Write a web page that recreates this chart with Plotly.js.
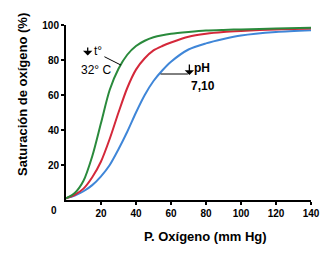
<!DOCTYPE html>
<html><head><meta charset="utf-8">
<script src="https://cdn.plot.ly/plotly-3.0.1.min.js"></script>
<style>html,body{margin:0;padding:0;background:#fff}</style>
</head><body><div id="chart" style="width:330px;height:254px"></div>
<script>
const pO2 = [0, 5, 10, 15, 20, 25, 30, 35, 40, 45, 50, 55, 60, 70, 80, 90, 100, 120, 140];
const satTemp32 = [1, 4, 11, 25, 44, 63, 75, 83, 88, 91, 93, 94.2, 95, 96, 96.8, 97.2, 97.5, 98, 98.5];
const satNormal = [1, 3, 6.5, 13, 22, 35, 50, 64, 74.5, 81, 85.5, 88, 90, 93.3, 95, 96, 96.6, 97.5, 98];
const satPH710 = [1, 2.5, 5, 8.5, 13.5, 20, 29, 39, 50, 60, 68, 74, 79, 86, 89.5, 92, 94, 96, 97];
const xTicks = [20, 40, 60, 80, 100, 120, 140];
const yTicks = [20, 40, 60, 80, 100];

const F = 'Liberation Sans, Arial, sans-serif';
const mk = (y, c) => ({x: pO2, y: y, type: 'scatter', mode: 'lines', line: {color: c, width: 2, shape: 'spline', smoothing: 0.8}, hoverinfo: 'none'});
const data = [mk(satPH710, '#3f86d8'), mk(satNormal, '#d4283a'), mk(satTemp32, '#2a8a3c')];

const layout = {
  width: 330, height: 254,
  margin: {l: 66, r: 19, t: 25, b: 54},
  paper_bgcolor: '#fff', plot_bgcolor: '#fff',
  showlegend: false,
  font: {family: F, size: 10, color: '#000'},
  xaxis: {range: [0, 140], tickvals: xTicks, ticks: 'outside', ticklen: 3, tickwidth: 2, tickcolor: '#000',
    showline: true, linewidth: 2, linecolor: '#000', showgrid: false, zeroline: false,
    tickfont: {family: F, size: 10, weight: 'bold'}},
  yaxis: {range: [0, 100], tickvals: yTicks, ticks: 'outside', ticklen: 3, tickwidth: 2, tickcolor: '#000',
    showline: true, linewidth: 2, linecolor: '#000', showgrid: false, zeroline: false,
    tickfont: {family: F, size: 10, weight: 'bold'}},
  xaxis2: {overlaying: 'x', matches: 'x', range: [0, 140], tickvals: xTicks, ticks: 'inside', ticklen: 3, tickwidth: 2, tickcolor: '#000', showticklabels: false, showgrid: false, zeroline: false, showline: false, anchor: 'y'},
  yaxis2: {overlaying: 'y', matches: 'y', range: [0, 100], tickvals: yTicks, ticks: 'inside', ticklen: 3, tickwidth: 2, tickcolor: '#000', showticklabels: false, showgrid: false, zeroline: false, showline: false, anchor: 'x', side: 'left'},
  annotations: [
    {text: '0', x: 0, y: 0, xref: 'x', yref: 'y', xanchor: 'right', yanchor: 'top', xshift: -7, yshift: -3, showarrow: false, font: {family: F, size: 10, weight: 'bold'}},
    {text: 'P. Oxígeno (mm Hg)', x: 205, y: 236, xref: 'paper', yref: 'paper', xanchor: 'center', yanchor: 'middle', showarrow: false, font: {family: F, size: 13, weight: 'bold'}},
    {text: 'Saturación de oxígeno (%)', textangle: -90, x: 22, y: 95, xref: 'paper', yref: 'paper', xanchor: 'center', yanchor: 'middle', showarrow: false, font: {family: F, size: 13, weight: 'bold'}},
    // t° arrow + labels
    {text: '', x: 12.4, y: 82.6, xref: 'x', yref: 'y', ax: 12.4, ay: 88, axref: 'x', ayref: 'y', showarrow: true, arrowhead: 1, arrowsize: 1.2, arrowwidth: 1.3, arrowcolor: '#000'},
    {text: 't°', x: 14.6, y: 85.3, xref: 'x', yref: 'y', xanchor: 'left', yanchor: 'middle', showarrow: false, font: {family: F, size: 12}},
    {text: '32° C', x: 7.6, y: 74.5, xref: 'x', yref: 'y', xanchor: 'left', yanchor: 'middle', showarrow: false, font: {family: F, size: 12}},
    {text: '', x: 31.4, y: 77.1, xref: 'x', yref: 'y', ax: 21.1, ay: 82.3, axref: 'x', ayref: 'y', showarrow: true, arrowhead: 0, arrowwidth: 1, arrowcolor: '#000'},
    // pH arrow + labels
    {text: '', x: 70.5, y: 71.5, xref: 'x', yref: 'y', ax: 70.5, ay: 78.3, axref: 'x', ayref: 'y', showarrow: true, arrowhead: 1, arrowsize: 1.2, arrowwidth: 1.3, arrowcolor: '#000'},
    {text: 'pH', x: 72, y: 75.3, xref: 'x', yref: 'y', xanchor: 'left', yanchor: 'middle', showarrow: false, font: {family: F, size: 12, weight: 'bold'}},
    {text: '7,10', x: 70.5, y: 65.3, xref: 'x', yref: 'y', xanchor: 'left', yanchor: 'middle', showarrow: false, font: {family: F, size: 12, weight: 'bold'}},
    {text: '', x: 54, y: 72, xref: 'x', yref: 'y', ax: 70.5, ay: 72, axref: 'x', ayref: 'y', showarrow: true, arrowhead: 0, arrowwidth: 1, arrowcolor: '#000'}
  ]
};
layout.annotations.forEach(a => {
  if (a.xref === 'paper') {
    a.x = (a.x - 66) / 245;
    a.y = (200 - a.y) / 175;
  }
});
Plotly.newPlot('chart', data, layout, {staticPlot: true, displayModeBar: false});
</script></body></html>
